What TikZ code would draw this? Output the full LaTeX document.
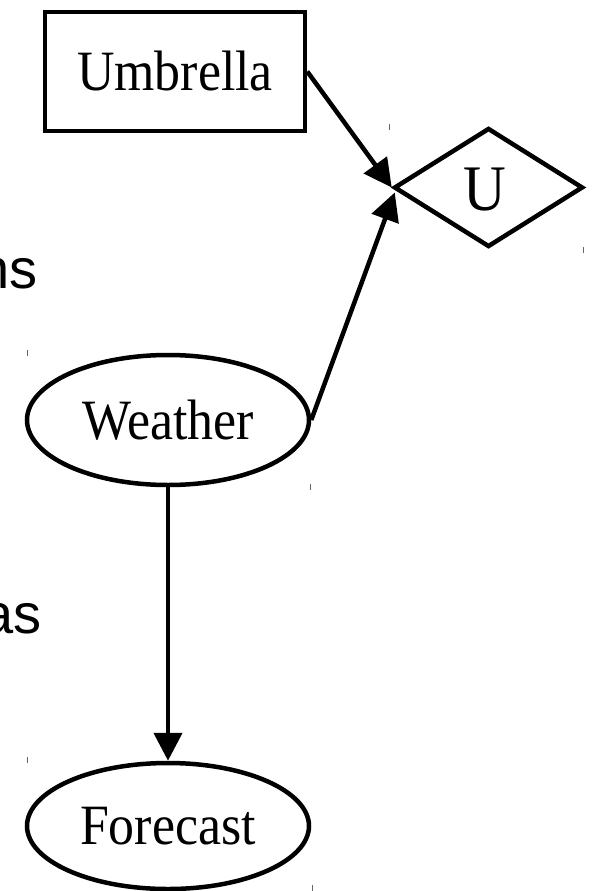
\documentclass[tikz,border=0pt]{standalone}
\usepackage{fontspec}
\usetikzlibrary{shapes.geometric,arrows.meta,calc}
\newfontfamily\nodefont[FakeStretch=0.91]{Liberation Serif}
\newfontfamily\sidefont{Liberation Sans}
\tikzset{
  shapeline/.style={draw=black, line width=4.5pt, inner sep=0pt, font=\nodefont\fontsize{57}{60}\selectfont},
  rectbox/.style={shapeline, rectangle, minimum width=260pt, minimum height=119pt},
  ovalbox/.style={shapeline, ellipse, minimum width=282pt, minimum height=130pt},
  utilbox/.style={shapeline, diamond, aspect=1.57, minimum width=189pt, minimum height=119pt, font=\nodefont\fontsize{65}{68}\selectfont},
  link/.style={line width=4.5pt, -{Triangle[length=28pt,width=28pt]}},
  sidetext/.style={font=\sidefont\fontsize{56}{60}\selectfont, inner sep=0pt, anchor=base east},
  tick/.style={draw=black!60, line width=1pt}
}
\begin{document}
\begin{tikzpicture}[x=1pt,y=-1pt]
\useasboundingbox (0,0) rectangle (594,891);
\clip (0,0) rectangle (594,891);
\fill[white] (0,0) rectangle (594,891);
% nodes
\node[rectbox] (umb) at (175,71.5) {Umbrella};
\node[utilbox] (u) at (488.5,187.5) {};
\node[font=\nodefont\fontsize{65}{68}\selectfont, inner sep=0pt] (ulabel) at (485,190) {U};
\node[ovalbox] (weather) at (168,420) {Weather};
\node[ovalbox, minimum height=126pt] (forecast) at (168,826) {Forecast};
% clipped side texts
\node[sidetext] (ns) at (38,288) {ns};
\node[sidetext] (as) at (42,633) {as};
% connectors
\draw[link] (umb.east) -- (u.west);
\draw[link] (weather.east) -- ($(u.west)+(3,5)$);
\draw[link] (weather.south) -- (forecast.north);
% small ticks
\draw[tick] (389,124) -- (389,130);
\draw[tick] (583,247) -- (583,253);
\draw[tick] (27,350) -- (27,356);
\draw[tick] (27,757) -- (27,763);
\draw[tick] (310,484) -- (310,490);
\draw[tick] (312,885) -- (312,891);
\end{tikzpicture}
\end{document}
